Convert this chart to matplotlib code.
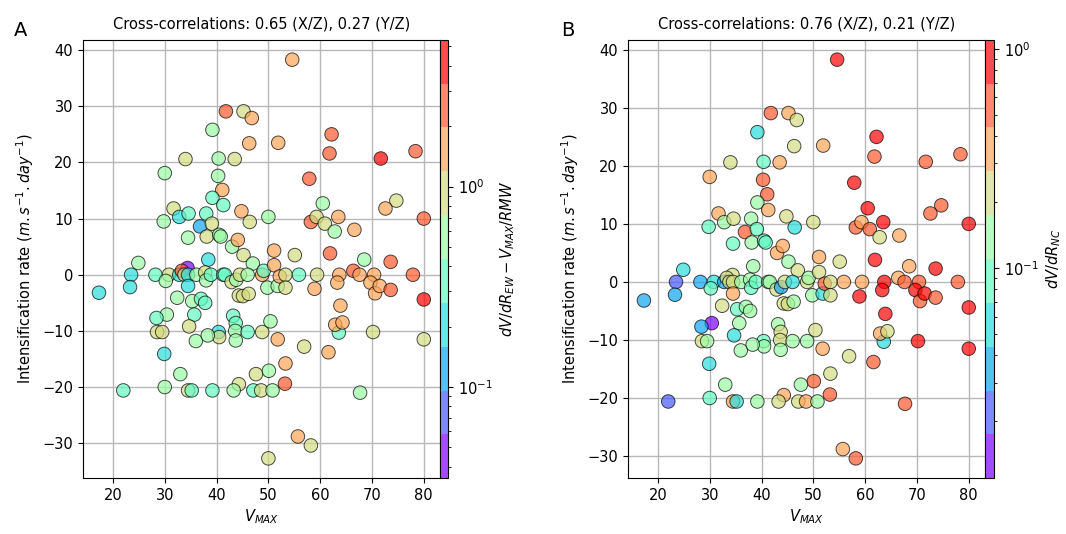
import numpy as np
import matplotlib
matplotlib.use("Agg")
import matplotlib.pyplot as plt
from matplotlib.colors import LogNorm

vmax_kt = [
    17.3, 54.6, 41.8, 45.2, 46.8, 39.2, 46.3, 51.9, 62.2, 61.8,
    71.7, 78.4, 34.0, 40.4, 43.5, 30.0, 40.3, 57.9, 41.1, 39.2,
    41.3, 74.7, 72.6, 60.5, 31.7, 32.8, 34.6, 38.0, 44.8, 29.8,
    36.8, 39.1, 50.0, 46.4, 58.2, 59.3, 60.9, 63.5, 62.8, 66.6,
    34.5, 38.1, 40.5, 40.8, 43.0, 44.1, 51.1, 45.2, 55.1, 61.9,
    38.4, 47.0, 68.5, 73.6, 24.9, 34.4, 23.5, 28.2, 30.8, 30.2,
    32.8, 33.3, 33.8, 34.5, 34.5, 36.1, 37.8, 38.0, 38.9, 41.3,
    41.6, 42.9, 43.8, 44.5, 46.0, 48.8, 49.1, 49.8, 51.1, 51.8,
    52.2, 53.3, 53.3, 55.9, 59.4, 58.9, 63.7, 63.3, 63.9, 66.4,
    67.6, 70.4, 69.7, 70.6, 71.5, 73.6, 77.9, 80.0, 23.3, 32.4,
    35.3, 37.0, 37.8, 44.3, 45.1, 46.2, 35.7, 30.4, 28.4, 34.7,
    43.2, 43.7, 43.6, 43.7, 40.4, 40.5, 46.0, 48.8, 50.4, 36.0,
    38.3, 28.5, 29.5, 51.8, 63.6, 62.9, 64.3, 70.2, 80.0, 56.9,
    61.6, 53.3, 53.2, 50.1, 47.6, 44.3, 33.0, 29.9, 30.0, 22.0,
    34.5, 35.2, 39.2, 43.3, 47.1, 48.6, 50.8, 67.7, 55.7, 58.2,
    50.0, 80.0,
]

intens_rate = [
    -3.2, 38.3, 29.1, 29.1, 27.9, 25.8, 23.4, 23.5, 25.0, 21.6,
    20.7, 22.0, 20.6, 20.7, 20.6, 18.1, 17.6, 17.1, 15.1, 13.7,
    12.4, 13.2, 11.8, 12.7, 11.8, 10.3, 10.9, 10.9, 11.3, 9.5,
    8.6, 9.1, 10.3, 9.4, 9.4, 10.3, 9.1, 10.3, 7.7, 8.0,
    6.6, 6.8, 7.1, 6.8, 5.0, 6.2, 4.3, 3.5, 3.5, 3.8,
    2.7, 2.0, 2.7, 2.3, 2.1, 1.2, 0.0, 0.0, 0.0, -1.1,
    0.0, 0.7, 0.0, 0.0, -2.0, 0.0, 0.4, -1.0, 0.0, 0.0,
    0.0, -1.3, -0.9, 0.0, 0.0, 0.0, 0.7, -2.3, 1.7, -2.0,
    -0.3, 0.0, -2.3, 0.0, 0.0, -2.5, 0.0, -1.4, -5.5, 0.7,
    0.0, 0.0, -1.4, -3.3, -2.0, -2.7, 0.0, -4.4, -2.2, -4.1,
    -4.7, -4.3, -5.0, -3.7, -3.8, -3.4, -7.1, -7.1, -7.7, -9.2,
    -7.3, -8.6, -10.0, -11.7, -10.2, -11.1, -10.2, -10.2, -8.3, -11.8,
    -10.8, -10.2, -10.2, -11.5, -10.3, -8.9, -8.5, -10.2, -11.5, -12.8,
    -13.8, -15.8, -19.4, -17.1, -17.7, -19.5, -17.7, -14.1, -20.0, -20.6,
    -20.6, -20.6, -20.6, -20.6, -20.6, -20.6, -20.6, -21.0, -28.8, -30.4,
    -32.7, 10.0,
]

# dV/dR_EW - Vmax/RMW (panel A)
dvdr_ew = [
    0.21, 1.6, 2.6, 0.94, 1.6, 0.57, 1.6, 1.6, 2.6, 2.6,
    4.3, 2.6, 0.94, 0.57, 0.94, 0.57, 0.57, 2.6, 1.6, 0.34,
    0.34, 0.94, 1.6, 0.57, 0.94, 0.21, 0.34, 0.34, 1.6, 0.57,
    0.12, 0.94, 0.57, 0.94, 2.6, 0.94, 0.94, 1.6, 0.57, 1.6,
    0.57, 0.94, 0.57, 0.57, 0.57, 1.6, 1.6, 0.94, 0.94, 2.6,
    0.21, 0.57, 0.57, 2.6, 0.57, 0.045, 0.21, 0.34, 0.94, 0.57,
    0.21, 2.6, 0.94, 0.21, 0.21, 0.57, 0.94, 0.57, 0.34, 0.34,
    0.34, 0.94, 0.57, 0.94, 0.57, 1.6, 0.34, 0.57, 1.6, 0.57,
    1.6, 0.94, 0.94, 0.34, 0.94, 1.6, 1.6, 1.6, 1.6, 2.6,
    1.6, 1.6, 1.6, 1.6, 1.6, 2.6, 2.6, 4.3, 0.21, 0.57,
    0.57, 0.34, 0.34, 0.94, 0.94, 0.94, 0.34, 0.57, 0.34, 0.94,
    0.34, 0.34, 0.57, 0.57, 0.21, 0.94, 0.34, 0.94, 0.57, 0.57,
    0.57, 0.94, 0.94, 1.6, 0.34, 1.6, 1.6, 0.94, 0.94, 0.94,
    1.6, 1.6, 2.6, 0.57, 0.94, 0.94, 0.57, 0.21, 0.57, 0.34,
    0.94, 0.34, 0.34, 0.57, 0.34, 0.94, 0.57, 0.57, 1.6, 0.94,
    0.94, 2.6,
]

# dV/dR_NC (panel B), nan = not available
dvdr_nc = [
    0.035, 0.87, 0.55, 0.35, 0.22, 0.055, 0.22, 0.35, 0.87, 0.55,
    0.55, 0.55, 0.22, 0.087, 0.35, 0.35, 0.55, 0.87, 0.55, 0.14,
    0.35, 0.55, 0.55, 0.87, 0.35, 0.14, 0.22, 0.14, 0.22, 0.087,
    0.55, 0.087, 0.22, 0.055, 0.55, 0.35, 0.55, 0.87, 0.22, 0.35,
    0.087, 0.14, 0.087, 0.087, 0.35, 0.35, 0.35, 0.14, 0.22, 0.87,
    0.14, 0.22, 0.35, 0.87, 0.055, 0.22, 0.022, 0.035, 0.055, 0.087,
    0.035, 0.22, 0.22, 0.22, 0.35, 0.14, 0.14, 0.087, 0.087, 0.14,
    0.14, 0.22, 0.035, 0.22, 0.055, 0.22, 0.14, 0.14, 0.22, 0.055,
    0.55, 0.22, 0.22, 0.35, 0.35, 0.87, 0.87, 0.87, 0.87, 0.35,
    0.55, 0.55, 0.87, 0.55, 0.87, 0.55, 0.55, 0.87, 0.035, 0.22,
    0.087, 0.14, 0.14, 0.22, 0.22, 0.14, 0.14, 0.014, 0.035, 0.055,
    0.14, 0.22, 0.22, 0.14, 0.087, 0.14, 0.14, 0.14, 0.22, 0.14,
    0.14, 0.22, 0.14, 0.35, 0.055, 0.35, 0.22, 0.87, 0.87, 0.22,
    0.55, 0.22, 0.55, 0.55, 0.14, 0.35, 0.14, 0.055, 0.087, 0.022,
    0.35, 0.055, 0.14, 0.22, 0.22, 0.35, 0.14, 0.55, 0.35, 0.55,
    np.nan, 0.87,
]

titles = ["Cross-correlations: 0.65 (X/Z), 0.27 (Y/Z)",
          "Cross-correlations: 0.76 (X/Z), 0.21 (Y/Z)"]
cbar_labels = [r"$dV/dR_{EW} - V_{MAX}/RMW$", r"$dV/dR_{NC}$"]
panel_tags = ["A", "B"]
c_limits = [(0.035, 5.4), (0.011, 1.1)]

plt.rcParams["font.size"] = 10.5

x = np.array(vmax_kt)
y = np.array(intens_rate)
cmap = plt.get_cmap("rainbow", 10)

fig = plt.figure(figsize=(10.66, 5.34), dpi=100)
ax_boxes = [[0.0776, 0.1043, 0.3352, 0.8213], [0.5888, 0.1043, 0.3352, 0.8213]]
cax_boxes = [[0.4128, 0.1043, 0.0078, 0.8213], [0.9240, 0.1043, 0.0085, 0.8213]]
tag_x = [0.013, 0.526]

for i, col in enumerate([dvdr_ew, dvdr_nc]):
    c = np.array(col)
    ok = ~np.isnan(c)
    ax = fig.add_axes(ax_boxes[i])
    cax = fig.add_axes(cax_boxes[i])
    ax.set_axisbelow(True)
    ax.grid(True, color="#b8b8b8", linewidth=1.0)
    sc = ax.scatter(x[ok], y[ok], c=c[ok], s=95, cmap=cmap,
                    norm=LogNorm(vmin=c_limits[i][0], vmax=c_limits[i][1]),
                    edgecolors="k", linewidths=0.7, alpha=0.7)
    ax.set_xticks([20, 30, 40, 50, 60, 70, 80])
    ax.set_yticks([-30, -20, -10, 0, 10, 20, 30, 40])
    ax.set_xlabel(r"$V_{MAX}$", labelpad=3)
    ax.set_ylabel(r"Intensification rate ($m.s^{-1}.day^{-1}$)")
    ax.set_title(titles[i], fontsize=10.5, pad=8)
    cb = fig.colorbar(sc, cax=cax)
    cb.set_label(cbar_labels[i])
    cb.outline.set_linewidth(0.8)
    fig.text(tag_x[i], 0.933, panel_tags[i], fontsize=14)

fig.savefig("out.png", dpi=100)
